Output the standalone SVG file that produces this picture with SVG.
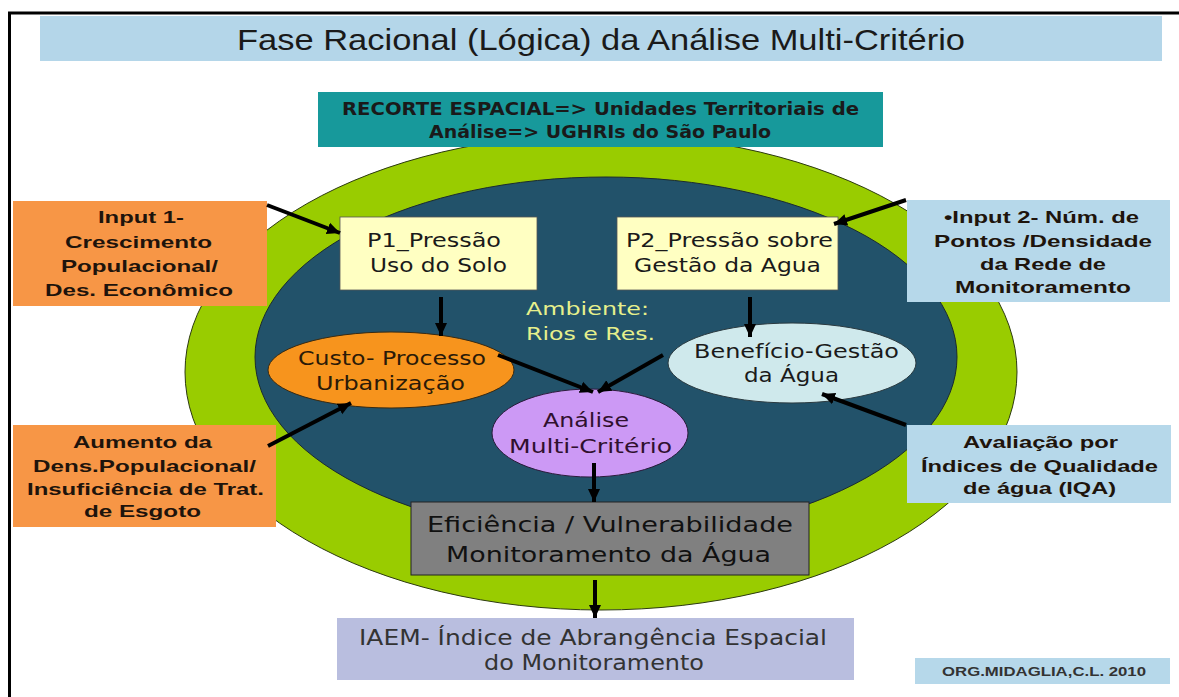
<svg xmlns="http://www.w3.org/2000/svg" width="1179" height="697" viewBox="0 0 1179 697">
<defs>
<marker id="ah" markerUnits="userSpaceOnUse" markerWidth="14" markerHeight="14" viewBox="0 0 14 14" refX="13" refY="7" orient="auto">
<path d="M0,1 L13,7 L0,13 Z" fill="#000"/>
</marker>
<style>
.t{font-family:"DejaVu Sans","Liberation Sans",sans-serif;text-anchor:middle}
.b{font-family:"Liberation Sans",Arial,sans-serif;font-weight:bold;text-anchor:middle;fill:#1e140c}
.c{stroke:#000;stroke-width:4;fill:none;marker-end:url(#ah)}
</style>
</defs>
<rect width="1179" height="697" fill="#fff"/>
<path d="M9.5,697 V13 H1179" fill="none" stroke="#000" stroke-width="3"/>
<g id="title">
<rect x="40" y="16" width="1122" height="45" fill="#b4d6e9"/>
<text x="601" y="50" font-family="Liberation Sans, Arial, sans-serif" font-size="30" text-anchor="middle" fill="#1a1a1a" textLength="728" lengthAdjust="spacingAndGlyphs">Fase Racional (Lógica) da Análise Multi-Critério</text>
</g>
<g id="outer-ring">
<ellipse cx="601" cy="372" rx="416" ry="238" fill="#99cc00" stroke="#2c3a10" stroke-width="1"/>
</g>
<g id="ambiente">
<ellipse cx="606" cy="357" rx="351" ry="180" fill="#22526a" stroke="#1a2a30" stroke-width="1"/>
<text class="t" x="587.5" y="315" font-size="18.5" fill="#e6f08c" textLength="123" lengthAdjust="spacingAndGlyphs">Ambiente:</text>
<text class="t" x="590.5" y="340" font-size="18.5" fill="#e6f08c" textLength="129" lengthAdjust="spacingAndGlyphs">Rios e Res.</text>
</g>
<g id="recorte">
<rect x="318" y="92" width="565" height="55" fill="#17999b"/>
<text class="t" x="600.5" y="115" font-size="18" font-weight="bold" fill="#1a1a1a" textLength="517" lengthAdjust="spacingAndGlyphs">RECORTE ESPACIAL=&gt; Unidades Territoriais de</text>
<text class="t" x="600" y="138" font-size="18" font-weight="bold" fill="#1a1a1a" textLength="342" lengthAdjust="spacingAndGlyphs">Análise=&gt; UGHRIs do São Paulo</text>
</g>
<g id="p1">
<rect x="340" y="217" width="197" height="73" fill="#ffffc2" stroke="#555" stroke-width="0.8"/>
<text class="t" x="434" y="247" font-size="19" fill="#1a1a1a" textLength="134" lengthAdjust="spacingAndGlyphs">P1_Pressão</text>
<text class="t" x="438.5" y="272" font-size="19" fill="#1a1a1a" textLength="137" lengthAdjust="spacingAndGlyphs">Uso do Solo</text>
</g>
<g id="p2">
<rect x="617" y="217" width="221" height="73" fill="#ffffc2" stroke="#555" stroke-width="0.8"/>
<text class="t" x="729.5" y="247" font-size="19" fill="#1a1a1a" textLength="207" lengthAdjust="spacingAndGlyphs">P2_Pressão sobre</text>
<text class="t" x="727.5" y="272" font-size="19" fill="#1a1a1a" textLength="187" lengthAdjust="spacingAndGlyphs">Gestão da Agua</text>
</g>
<g id="custo">
<ellipse cx="391" cy="370" rx="123" ry="38" fill="#f7941d" stroke="#3a2a10" stroke-width="1"/>
<text class="t" x="392" y="365" font-size="19" fill="#2a1a08" textLength="188" lengthAdjust="spacingAndGlyphs">Custo- Processo</text>
<text class="t" x="390.5" y="390" font-size="19" fill="#2a1a08" textLength="149" lengthAdjust="spacingAndGlyphs">Urbanização</text>
</g>
<g id="beneficio">
<ellipse cx="792" cy="363" rx="124" ry="40" fill="#cfe9ec" stroke="#2a3a40" stroke-width="1"/>
<text class="t" x="796.5" y="358" font-size="19" fill="#1a1a1a" textLength="205" lengthAdjust="spacingAndGlyphs">Benefício-Gestão</text>
<text class="t" x="791.5" y="382" font-size="19" fill="#1a1a1a" textLength="95" lengthAdjust="spacingAndGlyphs">da Água</text>
</g>
<g id="analise">
<ellipse cx="590" cy="433" rx="98" ry="44" fill="#cc99f5" stroke="#2a1a3a" stroke-width="1"/>
<text class="t" x="586" y="427" font-size="19" fill="#30102e" textLength="86" lengthAdjust="spacingAndGlyphs">Análise</text>
<text class="t" x="590.5" y="453" font-size="19" fill="#30102e" textLength="163" lengthAdjust="spacingAndGlyphs">Multi-Critério</text>
</g>
<g id="eficiencia">
<rect x="411" y="502" width="398" height="73" fill="#808080" stroke="#222" stroke-width="1"/>
<text class="t" x="610" y="532" font-size="22" fill="#111" textLength="366" lengthAdjust="spacingAndGlyphs">Eficiência / Vulnerabilidade</text>
<text class="t" x="608.5" y="562" font-size="22" fill="#111" textLength="325" lengthAdjust="spacingAndGlyphs">Monitoramento da Água</text>
</g>
<g id="iaem">
<rect x="337" y="618" width="517" height="62" fill="#b9bedf"/>
<text class="t" x="593" y="645" font-size="21" fill="#333" textLength="468" lengthAdjust="spacingAndGlyphs">IAEM- Índice de Abrangência Espacial</text>
<text class="t" x="594" y="670" font-size="21" fill="#333" textLength="220" lengthAdjust="spacingAndGlyphs">do Monitoramento</text>
</g>
<g id="input1">
<rect x="13" y="201" width="254" height="105" fill="#f79646"/>
<text class="b" x="141" y="223" font-size="17" textLength="86" lengthAdjust="spacingAndGlyphs">Input 1-</text>
<text class="b" x="138.5" y="247.5" font-size="17" textLength="147" lengthAdjust="spacingAndGlyphs">Crescimento</text>
<text class="b" x="139.5" y="272" font-size="17" textLength="157" lengthAdjust="spacingAndGlyphs">Populacional/</text>
<text class="b" x="139" y="296" font-size="17" textLength="188" lengthAdjust="spacingAndGlyphs">Des. Econômico</text>
</g>
<g id="aumento">
<rect x="13" y="425" width="263" height="102" fill="#f79646"/>
<text class="b" x="142.5" y="448" font-size="17" textLength="139" lengthAdjust="spacingAndGlyphs">Aumento da</text>
<text class="b" x="144.5" y="472" font-size="17" textLength="223" lengthAdjust="spacingAndGlyphs">Dens.Populacional/</text>
<text class="b" x="145.5" y="495" font-size="17" textLength="237" lengthAdjust="spacingAndGlyphs">Insuficiência de Trat.</text>
<text class="b" x="142.5" y="517" font-size="17" textLength="117" lengthAdjust="spacingAndGlyphs">de Esgoto</text>
</g>
<g id="input2">
<rect x="907" y="200" width="263" height="102" fill="#b6d8ea"/>
<text class="b" x="1041.5" y="223" font-size="17" textLength="195" lengthAdjust="spacingAndGlyphs">•Input 2- Núm. de</text>
<text class="b" x="1043" y="247" font-size="17" textLength="218" lengthAdjust="spacingAndGlyphs">Pontos /Densidade</text>
<text class="b" x="1043" y="270" font-size="17" textLength="126" lengthAdjust="spacingAndGlyphs">da Rede de</text>
<text class="b" x="1043" y="293" font-size="17" textLength="176" lengthAdjust="spacingAndGlyphs">Monitoramento</text>
</g>
<g id="avaliacao">
<rect x="907" y="425" width="264" height="78" fill="#b6d8ea"/>
<text class="b" x="1040.5" y="448" font-size="17" textLength="155" lengthAdjust="spacingAndGlyphs">Avaliação por</text>
<text class="b" x="1039.5" y="472" font-size="17" textLength="237" lengthAdjust="spacingAndGlyphs">Índices de Qualidade</text>
<text class="b" x="1039.5" y="494" font-size="17" textLength="153" lengthAdjust="spacingAndGlyphs">de água (IQA)</text>
</g>
<g id="org">
<rect x="915" y="658" width="255" height="26" fill="#b6d8ea"/>
<text x="1044" y="676" font-family="Liberation Sans, Arial, sans-serif" font-weight="bold" font-size="12" text-anchor="middle" fill="#333" textLength="204" lengthAdjust="spacingAndGlyphs">ORG.MIDAGLIA,C.L. 2010</text>
</g>
<g id="connectors">
<line class="c" x1="267" y1="205" x2="340" y2="233"/>
<line class="c" x1="906" y1="200" x2="834" y2="224"/>
<line class="c" x1="441" y1="297" x2="441" y2="336"/>
<line class="c" x1="750" y1="297" x2="750" y2="337"/>
<line class="c" x1="268" y1="446" x2="351" y2="403"/>
<line class="c" x1="906" y1="425" x2="822" y2="394"/>
<line class="c" x1="498" y1="355" x2="593" y2="392"/>
<line class="c" x1="663" y1="355" x2="598" y2="392"/>
<line class="c" x1="594" y1="463" x2="594" y2="502"/>
<line class="c" x1="595" y1="580" x2="595" y2="618"/>
</g>
</svg>
